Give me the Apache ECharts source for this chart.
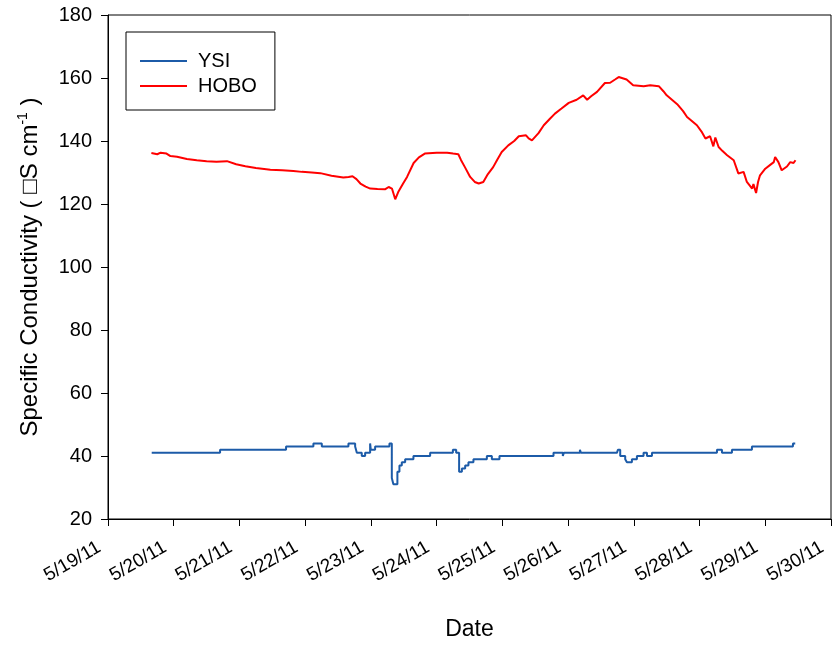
<!DOCTYPE html>
<html><head><meta charset="utf-8">
<script src="https://cdn.jsdelivr.net/npm/echarts@6/dist/echarts.min.js"></script>
<style>html,body{margin:0;padding:0;background:#fff;overflow:hidden;width:100%;height:100%}#c{position:absolute;left:0;top:0;width:100vw;height:100vh}</style>
</head><body><div id="c"></div>
<script>
// x values are days since 5/19/11 00:00
const xTickLabels = ['5/19/11','5/20/11','5/21/11','5/22/11','5/23/11','5/24/11','5/25/11','5/26/11','5/27/11','5/28/11','5/29/11','5/30/11'];
const seriesNames = ['YSI', 'HOBO'];

const hoboDays = [0.66,0.75,0.80,0.89,0.95,1.05,1.20,1.35,1.50,1.65,1.81,1.95,2.09,2.25,2.47,2.65,2.82,2.95,3.10,3.23,3.40,3.58,3.66,3.72,3.78,3.84,3.92,3.99,4.10,4.22,4.27,4.32,4.37,4.42,4.49,4.55,4.65,4.73,4.82,5.00,5.16,5.25,5.33,5.37,5.43,5.51,5.58,5.64,5.71,5.78,5.86,5.92,5.99,6.09,6.18,6.25,6.36,6.40,6.45,6.55,6.63,6.72,6.80,6.90,7.01,7.13,7.23,7.29,7.35,7.44,7.56,7.64,7.72,7.77,7.83,7.89,7.99,8.15,8.25,8.38,8.45,8.50,8.66,8.75,8.81,8.96,9.03,9.09,9.16,9.21,9.24,9.29,9.35,9.42,9.52,9.59,9.67,9.72,9.80,9.82,9.86,9.89,9.92,10.00,10.08,10.13,10.15,10.20,10.25,10.33,10.38,10.43,10.46];
const hoboValues = [136.2,135.8,136.3,136.0,135.2,135.0,134.3,133.9,133.6,133.4,133.6,132.6,132.0,131.4,130.9,130.7,130.5,130.2,130.0,129.8,129.0,128.4,128.6,128.8,127.9,126.5,125.5,124.9,124.8,124.7,125.4,124.9,121.5,124.0,126.5,128.6,133.0,134.8,136.0,136.3,136.3,136.0,135.8,134.0,131.7,128.6,127.0,126.5,127.0,129.5,131.7,134.0,136.5,138.6,140.0,141.5,141.8,140.8,140.2,142.5,145.0,147.0,148.7,150.3,152.1,153.1,154.5,153.1,154.2,155.6,158.4,158.5,159.6,160.3,159.9,159.5,157.7,157.4,157.7,157.4,155.8,154.5,151.7,149.5,147.6,145.0,143.0,140.8,141.5,138.3,141.1,138.1,136.8,135.5,133.9,129.7,130.2,127.0,124.9,126.3,123.5,127.0,129.1,131.2,132.5,133.3,134.9,133.3,130.7,131.9,133.3,133.0,133.9];

const ysiDays = [0.665,1.705,2.709,3.125,3.253,3.658,3.760,3.786,3.861,3.912,3.988,3.998,4.064,4.282,4.318,4.342,4.368,4.403,4.434,4.470,4.521,4.647,4.901,5.247,5.297,5.342,5.384,5.434,5.484,5.560,5.764,5.840,5.956,6.778,6.920,6.935,7.180,7.195,7.743,7.758,7.793,7.869,7.895,7.971,8.047,8.148,8.200,8.276,9.265,9.341,9.493,9.797,10.421,10.456];
const ysiValues = [41,42,43,44,43,44,43,41,40,41,44,42,43,44,33,31,31,35,37,38,39,40,41,42,41,35,36,37,38,39,40,39,40,41,40,41,42,41,41,42,40,39,38,39,40,41,40,41,42,41,42,43,44,44];

const yMin = 20, yMax = 180, yStep = 20;

const FONT = "'Liberation Sans', Arial, sans-serif";
const chart = echarts.init(document.getElementById('c'), null, {renderer: 'canvas', width: 832, height: 647});
chart.setOption({
  animation: false,
  backgroundColor: '#fff',
  textStyle: {fontFamily: FONT, color: '#000'},
  grid: {left: 108, top: 15, right: 1, bottom: 128, show: true, borderColor: '#000', borderWidth: 1},
  legend: {
    data: seriesNames,
    icon: 'rect',
    orient: 'vertical', left: 126, top: 32,
    padding: [19, 18, 14, 14],
    borderColor: '#000', borderWidth: 1,
    itemWidth: 47, itemHeight: 2, itemGap: 5,
    textStyle: {fontSize: 20, fontFamily: FONT, color: '#000', padding: [0, 0, 0, 6]}
  },
  xAxis: {
    type: 'value', min: 0, max: 11, interval: 1,
    name: 'Date', nameLocation: 'middle', nameGap: 99,
    nameTextStyle: {fontSize: 23, fontFamily: FONT, color: '#000'},
    axisLine: {lineStyle: {color: '#000', width: 1}},
    axisTick: {show: true, length: 7, lineStyle: {color: '#000'}},
    splitLine: {show: false},
    axisLabel: {rotate: 30, margin: 22, fontSize: 19, fontFamily: FONT, color: '#000', padding: [0, 10, 0, 0],
      formatter: v => xTickLabels[Math.round(v)]}
  },
  yAxis: {
    type: 'value', min: yMin, max: yMax, interval: yStep,
    name: 'Specific Conductivity ( \u25A1S cm{sup|-1} )', nameLocation: 'middle', nameRotate: 90, nameGap: 64,
    nameTextStyle: {fontSize: 24, fontFamily: FONT, color: '#000',
      rich: {sup: {fontSize: 14, fontFamily: FONT, color: '#000', padding: [0, 0, 14, 0]}}},
    axisLine: {show: true, lineStyle: {color: '#000', width: 1}},
    axisTick: {show: true, length: 7, lineStyle: {color: '#000'}},
    splitLine: {show: false},
    axisLabel: {margin: 16, fontSize: 20, fontFamily: FONT, color: '#000'}
  },
  series: [
    {name: seriesNames[0], type: 'line', step: 'end', symbol: 'none',
     lineStyle: {color: '#1c5ba8', width: 2}, itemStyle: {color: '#1c5ba8'},
     data: ysiDays.map((d, i) => [d, ysiValues[i]])},
    {name: seriesNames[1], type: 'line', symbol: 'none',
     lineStyle: {color: '#ff0000', width: 2}, itemStyle: {color: '#ff0000'},
     data: hoboDays.map((d, i) => [d, hoboValues[i]])}
  ]
});
</script></body></html>
